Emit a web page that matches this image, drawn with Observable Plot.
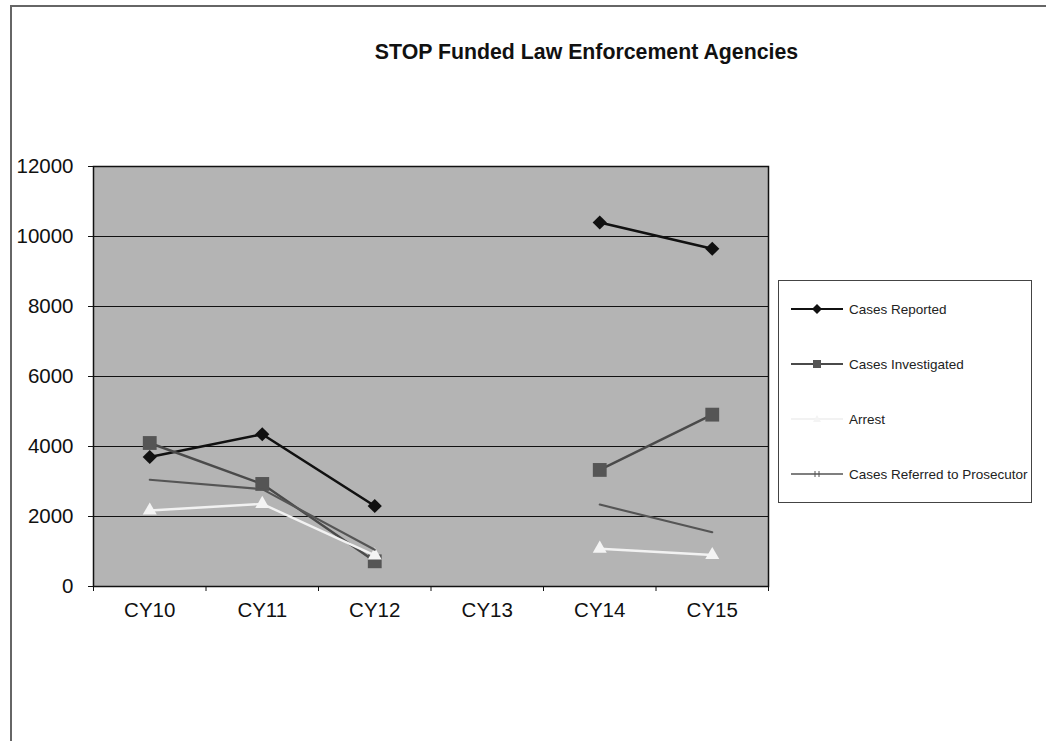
<!DOCTYPE html>
<html>
<head>
<meta charset="utf-8">
<script src="https://cdn.jsdelivr.net/npm/d3@7"></script>
<script src="https://cdn.jsdelivr.net/npm/@observablehq/plot@0.6"></script>
<style>
  html, body { margin: 0; padding: 0; background: #fff; }
  body { width: 1046px; height: 741px; overflow: hidden; position: relative; font-family: Arial, "Liberation Sans", sans-serif; }
  #border { position: absolute; left: 10px; top: 5px; width: 1100px; height: 800px; border-left: 2px solid #666; border-top: 2px solid #666; }
  #title { position: absolute; left: 0; width: 1173px; top: 40px; text-align: center; font-weight: bold; font-size: 21.3px; color: #111; }
  #chart { position: absolute; left: 0; top: 140px; }
  #legend { position: absolute; left: 778px; top: 280px; width: 252px; height: 221px; border: 1px solid #444; background: #fff; }
  .item { position: absolute; left: 12px; height: 20px; display: flex; align-items: center; font-size: 13.5px; color: #222; }
  .item svg { margin-right: 6px; }
</style>
</head>
<body>
<div id="border"></div>
<div id="title">STOP Funded Law Enforcement Agencies</div>
<div id="chart"></div>
<div id="legend"></div>
<script>
// ---- data ----
const categories = ["CY10", "CY11", "CY12", "CY13", "CY14", "CY15"];
const seriesNames = ["Cases Reported", "Cases Investigated", "Arrest", "Cases Referred to Prosecutor"];
const casesReported = [3700, 4350, 2300, null, 10400, 9650];
const casesInvestigated = [4100, 2930, 720, null, 3330, 4910];
const arrest = [2170, 2360, 890, null, 1080, 900];
const casesReferred = [3050, 2780, 1050, null, 2340, 1550];
const yTicks = [0, 2000, 4000, 6000, 8000, 10000, 12000];

// ---- styles ----
const styles = [
  {values: casesReported, stroke: "#111", width: 2.6, symbol: "diamond2", r: 6.4, fill: "#111"},
  {values: casesInvestigated, stroke: "#4a4a4a", width: 2.4, symbol: "square", r: 7.8, fill: "#555"},
  {values: arrest, stroke: "#f2f2f2", width: 2.4, symbol: "triangle", r: 5.2, fill: "#f4f4f4"},
  {values: casesReferred, stroke: "#555", width: 2.1, symbol: null}
];

const toRows = (vals) => categories.map((c, i) => ({i, cat: c, v: vals[i]}));
const boundaries = d3.range(-0.5, categories.length, 1);

const marks = [
  Plot.frame({fill: "#b4b4b4", stroke: null}),
  Plot.ruleY(yTicks, {stroke: "#111", strokeWidth: 1}),
  Plot.axisY({ticks: yTicks, tickSize: 5, tickPadding: 15, fontSize: 20.5, tickFormat: d => String(d), label: null, color: "#111"}),
  Plot.axisX({ticks: boundaries, tickSize: 5, tickFormat: () => "", label: null}),
  Plot.axisX({ticks: d3.range(categories.length), tickSize: 0, tickPadding: 16, fontSize: 20.5, tickFormat: i => categories[i], label: null, color: "#111"})
];
styles.forEach(s => {
  const rows = toRows(s.values);
  marks.push(Plot.line(rows, {x: "i", y: "v", stroke: s.stroke, strokeWidth: s.width}));
  if (s.symbol) {
    marks.push(Plot.dot(rows.filter(d => d.v != null), {x: "i", y: "v", symbol: s.symbol, r: s.r, fill: s.fill, stroke: "none"}));
  }
});
marks.push(Plot.frame({stroke: "#111", strokeWidth: 1.5}));

const chart = Plot.plot({
  width: 780,
  height: 500,
  marginLeft: 93,
  marginRight: 12,
  marginTop: 26,
  marginBottom: 54,
  style: {fontFamily: "Arial, 'Liberation Sans', sans-serif", background: "transparent", color: "#111"},
  x: {type: "linear", domain: [-0.5, categories.length - 0.5]},
  y: {domain: [0, 12000]},
  marks
});
document.getElementById("chart").appendChild(chart);

// ---- legend ----
const legend = document.getElementById("legend");
const ys = [18, 73, 128, 183];
const sym = (s) => {
  if (s.symbol === "diamond2") return `<path d="M26,5 L31,10 L26,15 L21,10 Z" fill="${s.fill}"/>`;
  if (s.symbol === "square") return `<rect x="22" y="6" width="8" height="8" fill="${s.fill}"/>`;
  if (s.symbol === "triangle") return `<path d="M26,6 L30,13 L22,13 Z" fill="${s.fill}"/>`;
  return `<path d="M24,7 L24,13 M28,7 L28,13" stroke="${s.stroke}" stroke-width="1"/>`;
};
seriesNames.forEach((name, k) => {
  const s = styles[k];
  const div = document.createElement("div");
  div.className = "item";
  div.style.top = ys[k] + "px";
  div.innerHTML = `<svg width="52" height="20"><line x1="0" y1="10" x2="52" y2="10" stroke="${s.stroke}" stroke-width="${k === 3 ? 1.3 : 2}"/>${sym(s)}</svg><span>${name}</span>`;
  legend.appendChild(div);
});
</script>
</body>
</html>
